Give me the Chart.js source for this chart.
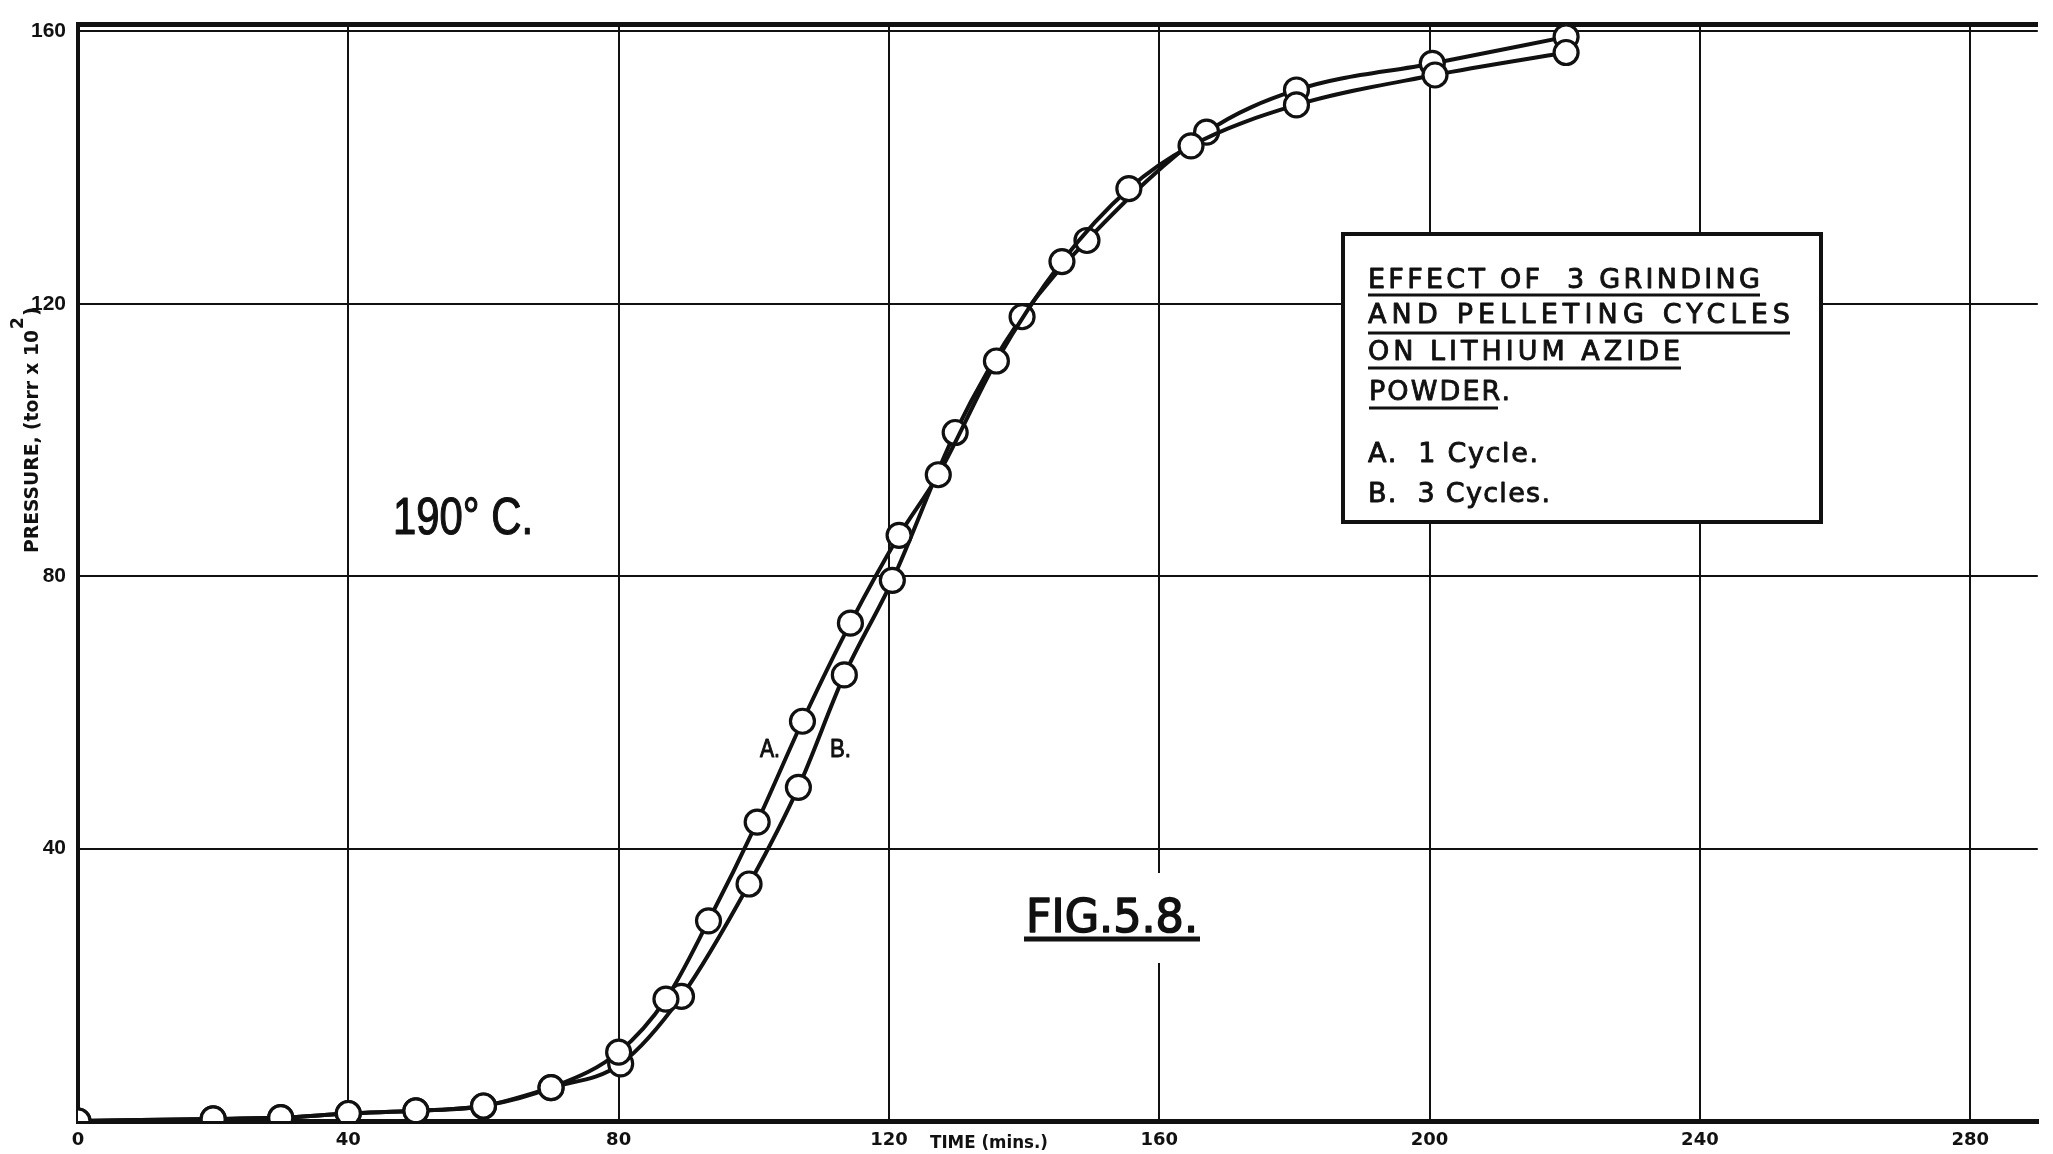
<!DOCTYPE html>
<html>
<head>
<meta charset="utf-8">
<script src="https://cdn.jsdelivr.net/npm/chart.js@4.4.0/dist/chart.umd.min.js"></script>
<style>
html, body { margin: 0; padding: 0; background: #fff; }
#wrap { width: 2053px; height: 1154px; }
</style>
</head>
<body>
<div id="wrap"><canvas id="myChart" width="2053" height="1154"></canvas></div>
<script>
// curve A - 1 cycle
const timeA = [0, 20, 30, 40, 50, 60, 70, 80, 87, 93.3, 100.5, 107.2, 114.3, 121.5, 127.3, 135.9, 145.6, 155.5, 164.7, 180.3, 200.8, 220.2];
const pressureA = [0, 0.3, 0.5, 1.1, 1.5, 2.2, 4.9, 10.1, 17.9, 29.4, 43.9, 58.7, 73.1, 86.0, 94.9, 111.6, 126.2, 136.9, 143.2, 149.2, 153.6, 156.9];
// curve B - 3 cycles
const timeB = [0, 20, 30, 40, 50, 60, 70, 80.3, 89.3, 99.3, 106.6, 113.4, 120.5, 129.8, 139.7, 149.3, 167.0, 180.3, 200.4, 220.2];
const pressureB = [0, 0.3, 0.5, 1.1, 1.5, 2.2, 4.9, 8.4, 18.3, 34.8, 49.0, 65.5, 79.4, 101.1, 118.1, 129.3, 145.2, 151.4, 155.3, 159.2];

const xTicks = [0, 40, 80, 120, 160, 200, 240, 280];
const yTicks = [0, 40, 80, 120, 160];

const ink = '#111';
const ctx = document.getElementById('myChart');

// stretch or space a string so it covers width w, optional stroke to thicken
function fitText(c, text, x, y, w, bold) {
  c.letterSpacing = '0px';
  const m = c.measureText(text).width;
  c.save();
  c.lineWidth = bold || 0;
  c.lineJoin = 'round';
  if (m >= w || !('letterSpacing' in c)) {
    c.translate(x, y);
    c.scale(w / m, 1);
    c.fillText(text, 0, 0);
    if (bold) c.strokeText(text, 0, 0);
  } else {
    c.letterSpacing = ((w - m) / (text.length - 1)) + 'px';
    c.fillText(text, x, y);
    if (bold) c.strokeText(text, x, y);
  }
  c.restore();
  c.letterSpacing = '0px';
}

function underline(c, x1, x2, y, lw) {
  c.lineWidth = lw;
  c.beginPath();
  c.moveTo(x1, y);
  c.lineTo(x2, y);
  c.stroke();
}

const notes = {
  id: 'notes',
  afterDraw(chart) {
    const c = chart.ctx;
    c.save();
    c.textAlign = 'left';
    c.textBaseline = 'alphabetic';

    // gap in the 160 grid line around the figure label
    c.fillStyle = '#fff';
    c.fillRect(1012, 873, 200, 90);

    c.fillStyle = ink;
    c.strokeStyle = ink;

    // figure number
    c.font = '46px "DejaVu Sans"';
    fitText(c, 'FIG.5.8.', 1026, 932, 172, 1.6);
    underline(c, 1024, 1200, 939, 5);

    // temperature
    c.font = '52px "Liberation Sans"';
    fitText(c, '190° C.', 393, 534, 140, 1.2);

    // curve labels
    c.font = '26px "Liberation Sans"';
    fitText(c, 'A.', 760, 757, 20, 1);
    fitText(c, 'B.', 830, 757, 21, 1);

    // legend box
    c.fillStyle = '#fff';
    c.fillRect(1343, 234, 478, 288);
    c.lineWidth = 4;
    c.strokeRect(1343, 234, 478, 288);
    c.fillStyle = ink;
    c.font = '27px "DejaVu Sans"';
    fitText(c, 'EFFECT OF  3 GRINDING', 1368, 288, 392, 0.9);
    underline(c, 1368, 1760, 295, 3);
    fitText(c, 'AND PELLETING CYCLES', 1368, 323, 422, 0.9);
    underline(c, 1368, 1790, 333, 3);
    fitText(c, 'ON LITHIUM AZIDE', 1368, 360, 312, 0.9);
    underline(c, 1368, 1681, 368, 3);
    fitText(c, 'POWDER.', 1369, 400, 141, 0.9);
    underline(c, 1369, 1498, 408, 3);
    fitText(c, 'A.  1 Cycle.', 1368, 462, 170, 0.9);
    fitText(c, 'B.  3 Cycles.', 1368, 502, 182, 0.9);

    // x axis title
    c.font = 'bold 18px "DejaVu Sans"';
    fitText(c, 'TIME (mins.)', 930, 1148, 118);

    // y axis title
    c.save();
    c.translate(38, 553);
    c.rotate(-Math.PI / 2);
    c.font = 'bold 20px "DejaVu Sans"';
    fitText(c, 'PRESSURE, (torr x 10', 0, 0, 223);
    c.font = 'bold 17px "DejaVu Sans"';
    c.fillText('2', 224, -15);
    c.font = 'bold 20px "DejaVu Sans"';
    c.fillText(')', 237, 0);
    c.restore();

    c.restore();
  }
};

function series(times, values) {
  return times.map((t, i) => ({ x: t, y: values[i] }));
}

const lineStyle = {
  borderColor: ink,
  borderWidth: 4,
  pointRadius: 12,
  pointBorderWidth: 3.2,
  pointBackgroundColor: '#fff',
  pointBorderColor: ink,
  cubicInterpolationMode: 'monotone',
  fill: false
};

new Chart(ctx, {
  type: 'line',
  data: {
    datasets: [
      Object.assign({ label: 'A. 1 Cycle.', data: series(timeA, pressureA) }, lineStyle),
      Object.assign({ label: 'B. 3 Cycles.', data: series(timeB, pressureB) }, lineStyle)
    ]
  },
  options: {
    responsive: false,
    animation: false,
    layout: { padding: 0 },
    plugins: {
      legend: { display: false },
      tooltip: { enabled: false }
    },
    scales: {
      x: {
        type: 'linear',
        position: 'bottom',
        min: 0,
        max: 290,
        afterBuildTicks: s => { s.ticks = xTicks.map(v => ({ value: v })); },
        afterFit: s => { s.height = 33; },
        grid: { color: ink, lineWidth: 2, drawTicks: false },
        border: { color: ink, width: 5 },
        ticks: {
          color: ink,
          padding: 9,
          autoSkip: false,
          maxRotation: 0,
          font: { family: 'DejaVu Sans', weight: 'bold', size: 18 }
        }
      },
      xTop: {
        type: 'linear',
        position: 'top',
        min: 0,
        max: 290,
        afterFit: s => { s.height = 14; },
        grid: { display: false, drawOnChartArea: false },
        border: { color: ink, width: 5 },
        ticks: { display: false }
      },
      y: {
        type: 'linear',
        min: 0,
        max: 161,
        afterBuildTicks: s => { s.ticks = yTicks.map(v => ({ value: v })); },
        afterFit: s => { s.width = 78; },
        grid: { color: ink, lineWidth: 2, drawTicks: false },
        border: { color: ink, width: 4 },
        ticks: {
          color: ink,
          padding: 12,
          callback: v => (v === 0 ? '' : v),
          font: { family: 'Liberation Sans', weight: 'bold', size: 21 }
        }
      }
    }
  },
  plugins: [notes]
});
</script>
</body>
</html>
